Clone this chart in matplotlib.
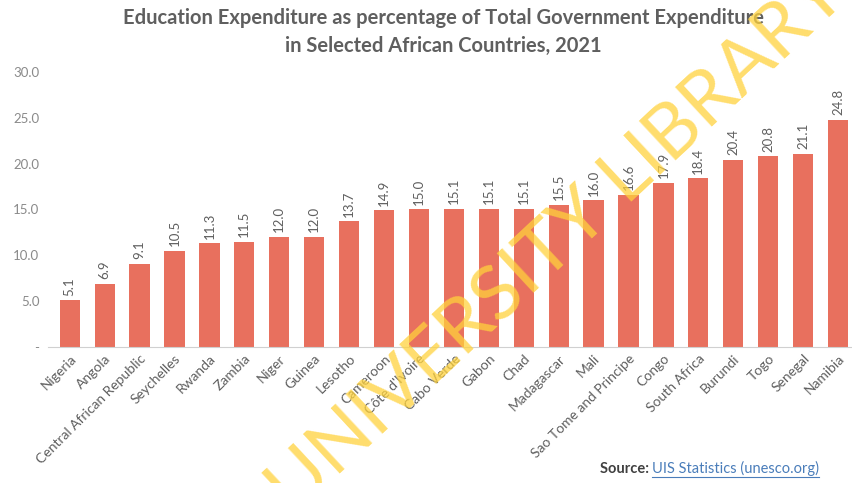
import matplotlib.pyplot as plt

countries = ['Nigeria', 'Angola', 'Central African Republic', 'Seychelles', 'Rwanda',
             'Zambia', 'Niger', 'Guinea', 'Lesotho', 'Cameroon', "Côte d'Ivoire",
             'Cabo Verde', 'Gabon', 'Chad', 'Madagascar', 'Mali', 'Sao Tome and Principe',
             'Congo', 'South Africa', 'Burundi', 'Togo', 'Senegal', 'Namibia']
edu_share = [5.1, 6.9, 9.1, 10.5, 11.3, 11.5, 12.0, 12.0, 13.7, 14.9, 15.0,
             15.1, 15.1, 15.1, 15.5, 16.0, 16.6, 17.9, 18.4, 20.4, 20.8, 21.1, 24.8]
y_ticks = [0, 5, 10, 15, 20, 25, 30]
y_labels = ['-', '5.0', '10.0', '15.0', '20.0', '25.0', '30.0']

BAR = '#E8705E'
GREY = '#8A8A8A'
DARK = '#5F5F5F'
LINK = '#4A7DBA'

plt.rcParams['font.family'] = ['Lato', 'DejaVu Sans']


def main():
    fig = plt.figure(figsize=(8.52, 4.83), dpi=100)
    ax = fig.add_axes([0.056, 0.2816, 0.944, 0.5694])

    x = range(len(countries))
    bars = ax.bar(x, edu_share, width=0.58, color=BAR, zorder=2)
    for rect, v in zip(bars, edu_share):
        ax.text(rect.get_x() + rect.get_width() / 2, v + 0.5, f'{v:.1f}',
                rotation=90, ha='center', va='bottom', fontsize=9.5, color=DARK)

    ax.set_xlim(-0.63, 22.4)
    ax.set_ylim(0, 30)
    ax.set_yticks(y_ticks, y_labels, fontsize=9.5, color=GREY)
    ax.set_xticks(list(x))
    ax.set_xticklabels(countries, rotation=45, ha='right', rotation_mode='anchor',
                       fontsize=10, color=DARK)
    ax.tick_params(length=0, pad=6)
    ax.tick_params(axis='x', pad=4)
    for side in ['top', 'right', 'left']:
        ax.spines[side].set_visible(False)
    ax.spines['bottom'].set_color('#D0D0D0')

    fig.text(0.52, 0.962, 'Education Expenditure as percentage of Total Government Expenditure',
             ha='center', va='center', fontsize=14.5, fontweight='bold', color=DARK)
    fig.text(0.52, 0.905, 'in Selected African Countries, 2021',
             ha='center', va='center', fontsize=14.5, fontweight='bold', color=DARK)

    src = fig.text(0.704, 0.02, 'Source: ', ha='left', va='baseline', fontsize=10.5,
                   fontweight='bold', color='#404040')
    fig.canvas.draw()
    inv = fig.transFigure.inverted()
    bb = src.get_window_extent().transformed(inv)
    link = fig.text(bb.x1, 0.02, 'UIS Statistics (unesco.org)', ha='left', va='baseline',
                    fontsize=10.5, color=LINK)
    fig.canvas.draw()
    lb = link.get_window_extent().transformed(inv)
    fig.add_artist(plt.Line2D([lb.x0, lb.x1], [0.012, 0.012], color=LINK, lw=0.8))

    # library watermark across the chart
    fig.text(0.655, 0.50, 'UNIVERSITY LIBRARY', rotation=43, ha='center', va='center',
             fontsize=55, fontweight='normal', color='#FFD23C', alpha=0.75, zorder=10)

    fig.savefig('out.png', dpi=100)


if __name__ == "__main__":
    main()
